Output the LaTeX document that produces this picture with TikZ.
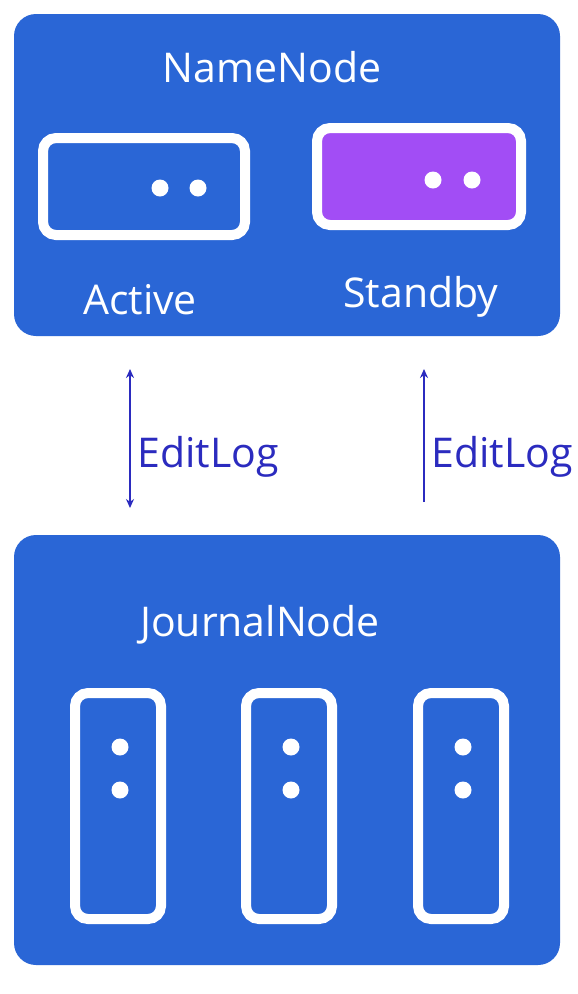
\documentclass[tikz,border=0pt]{standalone}
\usepackage{fontspec}
\setmainfont{Open Sans}
\usetikzlibrary{arrows.meta}
\definecolor{hablue}{HTML}{2A66D6}
\definecolor{standbypurple}{HTML}{A24DF5}
\definecolor{logblue}{HTML}{2B2BBF}
\tikzset{
  panel/.style={fill=hablue,draw=none,rounded corners=22pt,inner sep=0pt},
  slot/.style={draw=white,line width=10pt,rounded corners=13pt,fill=hablue,inner sep=0pt},
  pip/.style={circle,fill=white,draw=none,inner sep=0pt,minimum size=17pt},
  title/.style={text=white,font=\fontsize{41}{48}\selectfont,anchor=base},
  logtext/.style={text=logblue,font=\fontsize{41}{48}\selectfont,anchor=base west},
  logline/.style={draw=logblue,line width=1.6pt},
  logtip/.style={Stealth[length=9pt,width=8pt]}
}

\begin{document}
\begin{tikzpicture}[x=1pt,y=-1pt]
  \useasboundingbox[fill=white] (0,0) rectangle (578,994);
  % namenode pair
  \node[panel,minimum width=546pt,minimum height=322pt] (nn) at (287,175) {};
  \node[title] (nnlabel) at (272,82) {NameNode};
  \node[slot,minimum width=202pt,minimum height=97pt] (active) at (144,186.5) {};
  \node[slot,fill=standbypurple,minimum width=204pt,minimum height=97pt] (standby) at (419,176.5) {};
  \foreach \x in {160,198}{
    \node[pip] (ap\x) at (\x,188) {};  }
  \foreach \x in {433,472}{
    \node[pip] (sp\x) at (\x,180) {};  }
  \node[title] (activelabel) at (140,314) {Active};
  \node[title] (standbylabel) at (421,307) {Standby};
  % edit log traffic
  \coordinate (la) at (130,369);
  \coordinate (lb) at (130,508);
  \coordinate (ra) at (424,369);
  \coordinate (rb) at (424,502);
  \draw[logline,{Stealth[length=9pt,width=8pt]}-{Stealth[length=9pt,width=8pt]}] (la) -- (lb);
  \draw[logline,-{Stealth[length=9pt,width=8pt]}] (rb) -- (ra);
  \node[logtext] (leftlog) at (134,467) {EditLog};
  \node[logtext] (rightlog) at (428,467) {EditLog};
  % journalnode quorum
  \node[panel,minimum width=546pt,minimum height=430pt] (jn) at (287,750) {};
  \node[title] (jnlabel) at (260,636) {JournalNode};
  \foreach \x/\n in {118/1,289/2,461/3}{
    \node[slot,minimum width=86pt,minimum height=226pt] (jslot\n) at (\x,806) {};
    \node[pip] (jtop\n) at (\x+2,747) {};
    \node[pip] (jbot\n) at (\x+2,790) {};  }
\end{tikzpicture}
\end{document}
